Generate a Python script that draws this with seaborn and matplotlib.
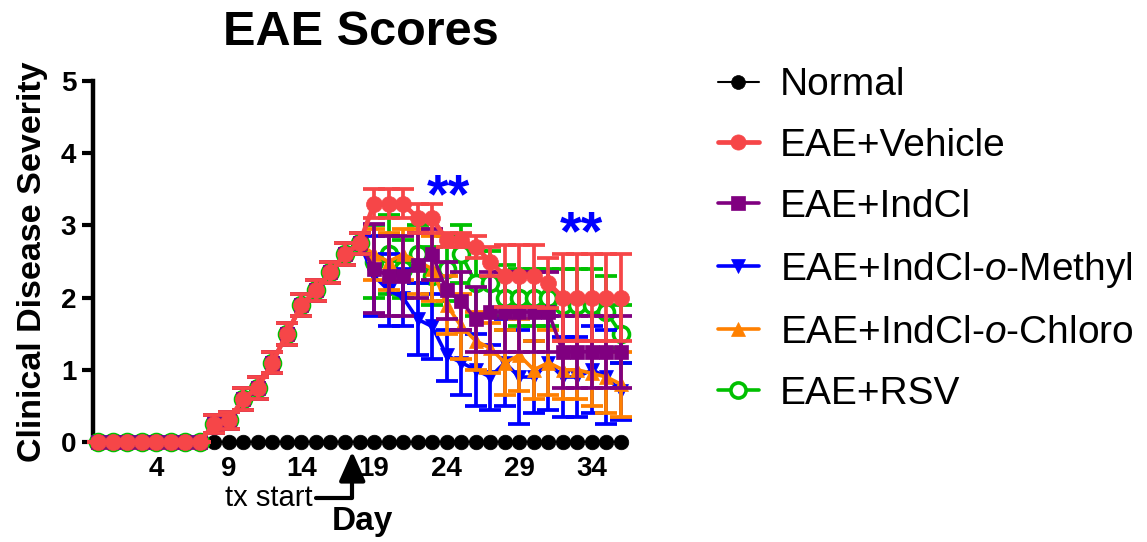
import matplotlib
matplotlib.use("Agg")
import matplotlib.pyplot as plt
from matplotlib.lines import Line2D
import seaborn as sns
import pandas as pd

sns.set_style("ticks")
plt.rcParams['font.family'] = ['Liberation Sans', 'DejaVu Sans']
plt.rcParams['mathtext.fontset'] = 'custom'
plt.rcParams['mathtext.rm'] = 'Liberation Sans'
plt.rcParams['mathtext.it'] = 'Liberation Sans:italic'
for key in ['text.color', 'axes.labelcolor', 'xtick.color', 'ytick.color', 'axes.edgecolor']:
    plt.rcParams[key] = 'black'

# days 0..36
days = list(range(37))

# before treatment all EAE groups track together (days 0-18)
pre_mean = [0, 0, 0, 0, 0, 0, 0, 0, 0.25, 0.30, 0.60, 0.75, 1.10, 1.50, 1.90, 2.10, 2.35, 2.60, 2.75]
pre_sem = [0, 0, 0, 0, 0, 0, 0, 0, 0.12, 0.12, 0.15, 0.15, 0.15, 0.15, 0.15, 0.15, 0.15, 0.15, 0.15]

# days 19-36
normal_mean = [0] * 37
vehicle_post = [3.30, 3.30, 3.30, 3.10, 3.10, 2.80, 2.80, 2.70, 2.50, 2.30, 2.30, 2.30, 2.20, 2.00, 2.00, 2.00, 2.00, 2.00]
vehicle_post_sem = [0.20, 0.20, 0.20, 0.20, 0.20, 0.10, 0.10, 0.15, 0.20, 0.43, 0.43, 0.43, 0.35, 0.60, 0.60, 0.60, 0.60, 0.60]
indcl_post = [2.40, 2.30, 2.30, 2.45, 2.60, 2.10, 1.95, 1.70, 1.80, 1.80, 1.80, 1.80, 1.80, 1.25, 1.25, 1.25, 1.25, 1.25]
indcl_post_sem = [0.62, 0.55, 0.55, 0.45, 0.35, 0.40, 0.40, 0.45, 0.55, 0.55, 0.55, 0.55, 0.55, 0.50, 0.50, 0.50, 0.50, 0.50]
methyl_post = [2.30, 2.10, 2.00, 1.70, 1.60, 1.20, 1.10, 1.00, 0.90, 1.10, 0.90, 0.90, 1.10, 0.90, 0.90, 1.00, 0.90, 0.70]
methyl_post_sem = [0.55, 0.50, 0.40, 0.50, 0.45, 0.35, 0.45, 0.50, 0.45, 0.60, 0.65, 0.50, 0.65, 0.55, 0.55, 0.60, 0.65, 0.40]
chloro_post = [2.60, 2.50, 2.60, 2.50, 2.40, 1.90, 1.60, 1.40, 1.30, 1.10, 1.20, 1.00, 1.10, 1.00, 1.00, 0.95, 0.90, 0.80]
chloro_post_sem = [0.35, 0.40, 0.35, 0.45, 0.45, 0.40, 0.45, 0.40, 0.35, 0.45, 0.50, 0.40, 0.45, 0.40, 0.40, 0.45, 0.50, 0.45]
rsv_post = [2.50, 2.60, 2.40, 2.60, 2.30, 2.40, 2.60, 2.20, 2.20, 2.00, 2.00, 2.00, 2.00, 1.90, 1.90, 1.90, 1.80, 1.50]
rsv_post_sem = [0.50, 0.55, 0.40, 0.40, 0.40, 0.45, 0.40, 0.45, 0.45, 0.45, 0.40, 0.40, 0.40, 0.50, 0.50, 0.50, 0.50, 0.40]

groups = ["Normal", "EAE+Vehicle", "EAE+IndCl", "EAE+IndCl-$\\mathit{o}$-Methyl",
          "EAE+IndCl-$\\mathit{o}$-Chloro", "EAE+RSV"]
means = {
    groups[0]: normal_mean,
    groups[1]: pre_mean + vehicle_post,
    groups[2]: pre_mean + indcl_post,
    groups[3]: pre_mean + methyl_post,
    groups[4]: pre_mean + chloro_post,
    groups[5]: pre_mean + rsv_post,
}
sems = {
    groups[0]: [0] * 37,
    groups[1]: pre_sem + vehicle_post_sem,
    groups[2]: pre_sem + indcl_post_sem,
    groups[3]: pre_sem + methyl_post_sem,
    groups[4]: pre_sem + chloro_post_sem,
    groups[5]: pre_sem + rsv_post_sem,
}

# style per group: color, marker, marker size, line width, face, zorder
styles = {
    groups[0]: dict(color="black", marker="o", ms=10.5, lw=1.5, mfc="black", z=2),
    groups[1]: dict(color="#F64648", marker="o", ms=11.5, lw=3.4, mfc="#F64648", z=7),
    groups[2]: dict(color="#800080", marker="s", ms=10, lw=2.6, mfc="#800080", z=6),
    groups[3]: dict(color="#0000FF", marker="v", ms=10.5, lw=2.6, mfc="#0000FF", z=4),
    groups[4]: dict(color="#FF8000", marker="^", ms=10.5, lw=2.6, mfc="#FF8000", z=5),
    groups[5]: dict(color="#00C000", marker="o", ms=11.5, lw=2.6, mfc="white", z=3),
}

fig = plt.figure(figsize=(11.47, 5.42), dpi=100)
ax = fig.add_axes([0.081, 0.1845, 0.4731, 0.666])

handles = []
for g in groups:
    st = styles[g]
    df = pd.DataFrame({"day": days, "score": means[g]})
    if g != "Normal":
        ax.errorbar(days, means[g], yerr=sems[g], fmt="none", ecolor=st["color"],
                    elinewidth=2.7, capsize=8, capthick=2.7, zorder=st["z"], clip_on=False)
    sns.lineplot(data=df, x="day", y="score", ax=ax, color=st["color"], marker=st["marker"],
                 markersize=st["ms"], linewidth=st["lw"], markerfacecolor=st["mfc"],
                 markeredgecolor=st["color"], markeredgewidth=2.6 if g == "EAE+RSV" else 0.5,
                 zorder=st["z"] + 0.5, clip_on=False, legend=False)
    handles.append(Line2D([0], [0], color=st["color"], lw=st["lw"], marker=st["marker"],
                          markersize=st["ms"] * 0.95, markerfacecolor=st["mfc"],
                          markeredgecolor=st["color"],
                          markeredgewidth=2.6 if g == "EAE+RSV" else 0.5))

ax.set_xlim(-0.35, 37)
ax.set_ylim(0, 5)
ax.set_xticks([4, 9, 14, 19, 24, 29, 34])
ax.set_yticks([0, 1, 2, 3, 4, 5])
for lab in ax.get_xticklabels() + ax.get_yticklabels():
    lab.set_fontweight("bold")
ax.tick_params(axis="x", length=0, labelsize=20, pad=10)
ax.tick_params(axis="y", length=8, width=3, labelsize=20, pad=4)
sns.despine(ax=ax, bottom=True)
ax.spines["left"].set_linewidth(3.2)
ax.set_xlabel("")
ax.set_ylabel("")

fig.text(0.315, 0.94, "EAE Scores", fontsize=35, fontweight="bold", ha="center", va="center")
fig.text(0.028, 0.517, "Clinical Disease Severity", fontsize=24.5, fontweight="bold",
         rotation=90, ha="center", va="center")
fig.text(0.3156, 0.037, "Day", fontsize=24, fontweight="bold", ha="center", va="center")

# treatment start arrow
ax.annotate("tx start", xy=(17.5, -0.13), xytext=(14.8, -0.77), ha="right", va="center",
            fontsize=21, annotation_clip=False,
            arrowprops=dict(arrowstyle="-|>,head_length=0.9,head_width=0.4",
                            connectionstyle="angle,angleA=0,angleB=90,rad=0",
                            lw=3, color="black", shrinkA=0, shrinkB=0, mutation_scale=20))

# significance marks
ax.text(24.1, 3.37, "**", color="#0000FF", fontsize=40, fontweight="bold", ha="center", va="center")
ax.text(33.3, 2.86, "**", color="#0000FF", fontsize=40, fontweight="bold", ha="center", va="center")

fig.legend(handles, groups, loc="upper left", bbox_to_anchor=(0.626, 0.876), frameon=False,
           fontsize=28, handlelength=1.05, handletextpad=0.55, labelspacing=0.64,
           borderpad=0, borderaxespad=0)

fig.savefig("out.png", dpi=100)
